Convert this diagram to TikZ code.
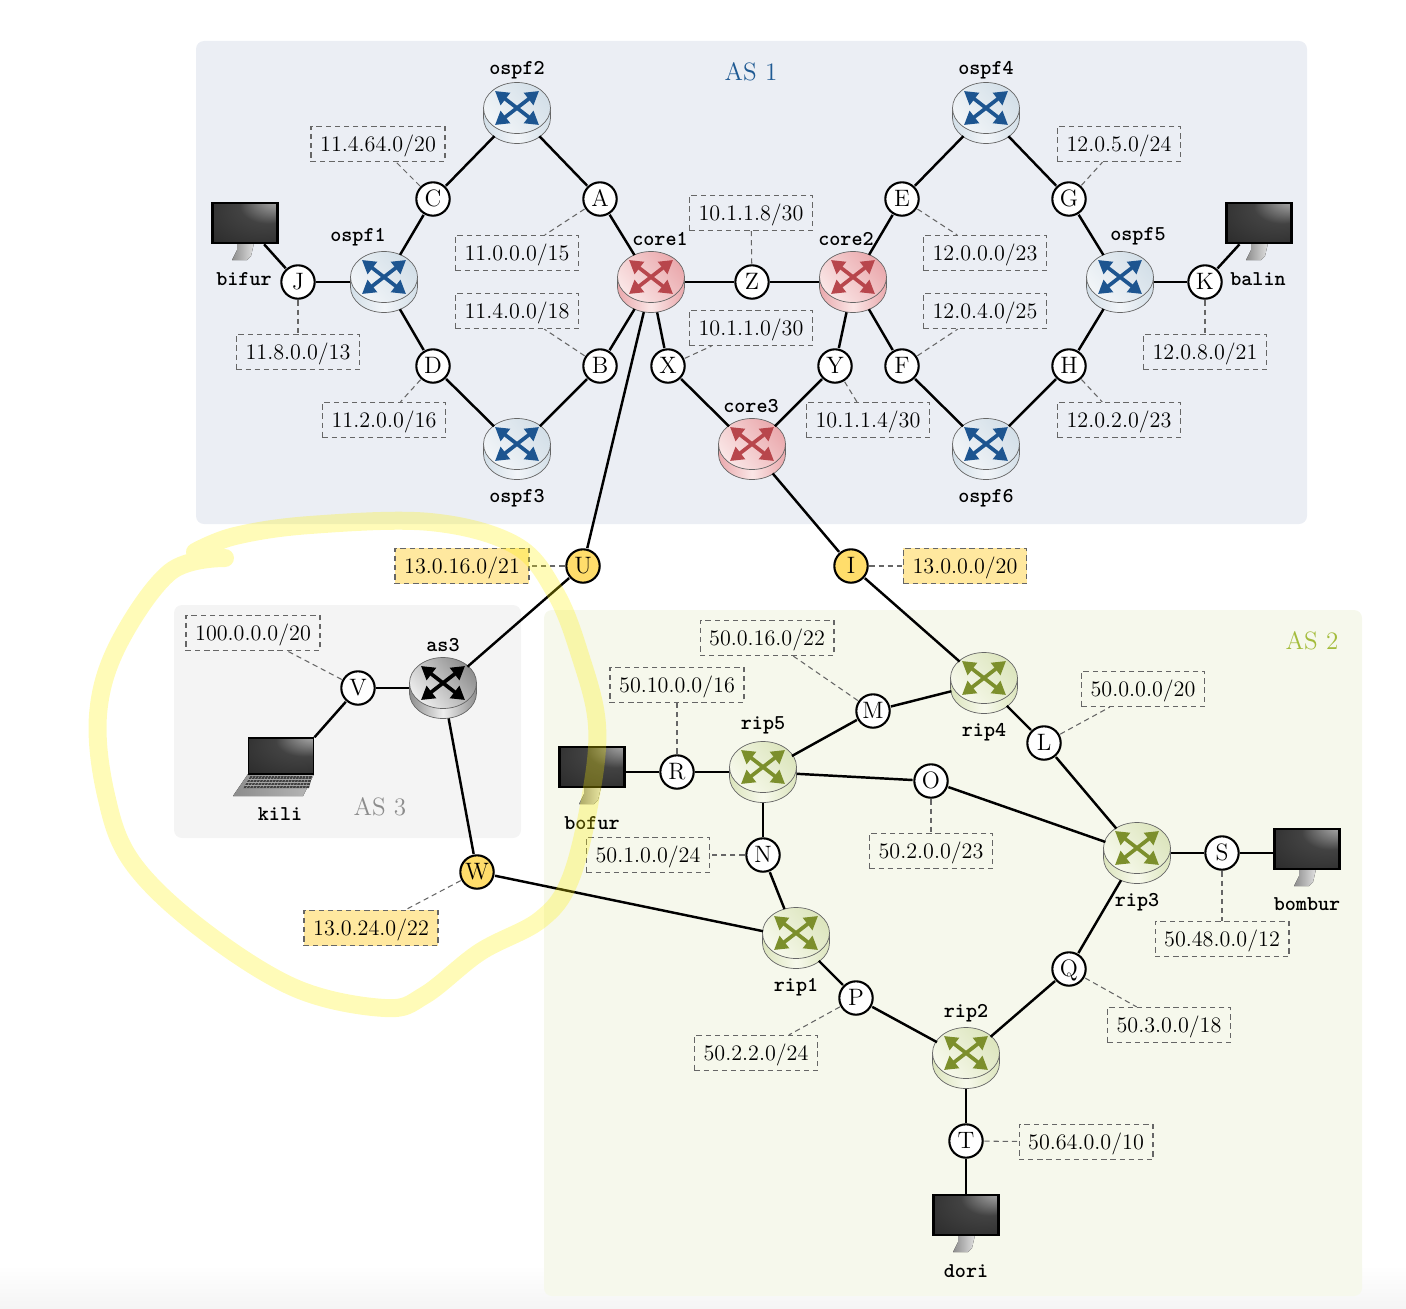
\documentclass[tikz,border=0pt]{standalone}
\usetikzlibrary{arrows.meta,shapes.geometric}

\definecolor{asonebg}{HTML}{EBEEF4}
\definecolor{astwobg}{HTML}{F6F8EC}
\definecolor{asthreebg}{HTML}{F4F4F4}
\definecolor{ospflight}{HTML}{F2F5F8}
\definecolor{ospfdark}{HTML}{D3DFE8}
\definecolor{ospfarrow}{HTML}{1D5590}
\definecolor{corelight}{HTML}{FAE6E6}
\definecolor{coredark}{HTML}{EAA9AD}
\definecolor{corearrow}{HTML}{B8464C}
\definecolor{riplight}{HTML}{F7F9EC}
\definecolor{ripdark}{HTML}{DCE5BD}
\definecolor{riparrow}{HTML}{7C8F2C}
\definecolor{graylight}{HTML}{EEEEEE}
\definecolor{graydark}{HTML}{8E8E8E}
\definecolor{grayarrow}{HTML}{000000}
\definecolor{hopyellow}{HTML}{FFDD6B}
\definecolor{netyellow}{HTML}{FFE89F}

\pgfdeclareradialshading{screenshade}{\pgfpoint{32bp}{38bp}}{
	color(0bp)=(black!18); color(9bp)=(black!40); color(22bp)=(black!74); color(50bp)=(black!86)}

\tikzset{
	hop/.style={circle, draw, line width=1.2pt, fill=white, minimum size=19pt, inner sep=0pt, outer sep=1pt, text height=9pt, text depth=0pt, font=\fontsize{13.5}{15}\selectfont},
	net/.style={draw=black!60, dash pattern=on 3pt off 2.2pt, line width=0.6pt, minimum height=20pt, inner xsep=5.2pt, inner ysep=0pt, text height=8.2pt, text depth=0pt, font=\fontsize{12.6}{15}\selectfont},
	netlink/.style={draw=black!60, dash pattern=on 3pt off 2.2pt, line width=0.6pt},
	wire/.style={line width=1.4pt},
	routerspot/.style={ellipse, minimum width=1.34cm, minimum height=1.22cm, inner sep=0pt},
	routerarrow/.style={line width=2.1pt, {Triangle[length=7.5pt,width=8.5pt]}-{Triangle[length=7.5pt,width=8.5pt]}},
	screen/.style={rectangle, draw, line width=1.5pt, shading=screenshade, minimum width=1.3cm, minimum height=0.8cm, inner sep=0pt},
	devname/.style={yshift=-1pt, font=\fontsize{12}{14}\ttfamily\bfseries},
	astitle/.style={font=\fontsize{14.3}{17}\selectfont},
	panel/.style={rounded corners=0.16cm},
	highlight/.style={line width=0.36cm, draw=yellow, opacity=0.28, line cap=round, line join=round}
}

\newcommand{\router}[4]{
	\node[routerspot] (#1) at (#2,#3) {};
	\begin{scope}[shift={(#1)}]
		\draw[line width=0.4pt, draw=black!60, left color=#4dark, right color=#4dark, middle color=#4light] (-33.5,-5) -- (-33.5,5) arc[start angle=180, end angle=0, x radius=33.5, y radius=25.5] -- (33.5,-5) -- cycle;
		\draw[line width=0.4pt, draw=black!60, top color=#4dark, bottom color=#4light, shading angle=-50] (0,-5) ellipse[x radius=33.5, y radius=25.5];
		\draw[routerarrow, #4arrow] (-22,-22) -- (22,12);
		\draw[routerarrow, #4arrow] (-22,12) -- (22,-22);
	\end{scope}
}

\newcommand{\monitor}[3]{
	\fill[left color=black!45, right color=black!12] (#2-8,#3+20) -- (#2+9,#3+20) -- (#2+6,#3+33) -- (#2+2,#3+37) -- (#2-13,#3+37) -- (#2-8,#3+27) -- cycle;
	\node[screen] (#1) at (#2,#3) {};
}

\begin{document}
\begin{tikzpicture}[x=0.02cm, y=-0.02cm]
	\useasboundingbox (0,0) rectangle (1406,1308);

	\fill[top color=white, bottom color=black!4] (0,1265) rectangle (1406,1308);
	\fill[asonebg, panel] (196,41) rectangle (1307,524);
	\fill[asthreebg, panel] (174,605) rectangle (521,838);
	\fill[astwobg, panel] (544,610) rectangle (1362,1296);

	\node[astitle, text={rgb,255:red,31;green,90;blue,147}] (asone) at (751,72) {AS 1};
	\node[astitle, text={rgb,255:red,164;green,188;blue,60}] (astwo) at (1312,641) {AS 2};
	\node[astitle, text=black!45] (asthree) at (380,807) {AS 3};

	\router{ospf1}{384}{282}{ospf}
	\router{ospf2}{517}{113}{ospf}
	\router{ospf3}{517}{449}{ospf}
	\router{ospf4}{986}{113}{ospf}
	\router{ospf5}{1120}{282}{ospf}
	\router{ospf6}{986}{449}{ospf}
	\router{core1}{651}{282}{core}
	\router{core2}{853}{282}{core}
	\router{core3}{752}{449}{core}
	\router{as3}{443}{688}{gray}
	\router{rip1}{796}{938}{rip}
	\router{rip2}{966}{1058}{rip}
	\router{rip3}{1137}{853}{rip}
	\router{rip4}{984}{683}{rip}
	\router{rip5}{763}{772}{rip}

	\monitor{bifur}{245}{223}
	\monitor{balin}{1259}{223}
	\monitor{bofur}{592}{767}
	\monitor{bombur}{1307}{849}
	\monitor{dori}{966}{1215}

	\fill[left color=black!45, right color=black!28] (248,774) -- (314,774) -- (303,796) -- (233,796) -- cycle;
	\fill[black!75] (250,776) -- (312,776) -- (309,788) -- (243,788) -- cycle;
	\foreach \k in {0,...,19} {
		\draw[black!35, line width=0.25pt] (250+\k*3.1,776) -- (243+\k*3.3,788);
	}
	\foreach \k in {1,2,3} {
		\draw[black!35, line width=0.25pt] (250-\k*1.8,776+\k*3) -- (312-\k*0.8,776+\k*3);
	}
	\node[screen, line width=1.1pt, minimum width=1.3cm, minimum height=0.71cm] (kili) at (281,756) {};

	\foreach \n/\x/\y in {A/600/199, B/600/366, C/433/199, D/433/366, E/902/199, F/902/366, G/1069/199, H/1069/366, J/298/282, K/1205/282, X/668/366, Y/835/366, Z/752/282, V/358/688, M/873/711, L/1044/743, O/931/781, R/677/772, N/763/855, P/856/998, Q/1069/969, S/1222/853, T/966/1141} {
		\node[hop] (\n) at (\x,\y) {\n};
	}
	\foreach \n/\x/\y in {U/583/566, I/851/566, W/477/872} {
		\node[hop, fill=hopyellow] (\n) at (\x,\y) {\n};
	}

	\foreach \n/\x/\y/\t in {C/378/144/{11.4.64.0/20}, A/517/253/{11.0.0.0/15}, B/517/311/{11.4.0.0/18}, J/298/352/{11.8.0.0/13}, D/384/420/{11.2.0.0/16}, Z/751/213/{10.1.1.8/30}, X/751/328/{10.1.1.0/30}, Y/868/420/{10.1.1.4/30}, G/1119/144/{12.0.5.0/24}, E/985/253/{12.0.0.0/23}, F/985/311/{12.0.4.0/25}, K/1205/352/{12.0.8.0/21}, H/1119/420/{12.0.2.0/23}, V/253/633/{100.0.0.0/20}, M/767/638/{50.0.16.0/22}, R/677/685/{50.10.0.0/16}, L/1143/689/{50.0.0.0/20}, O/931/851/{50.2.0.0/23}, N/648/855/{50.1.0.0/24}, S/1222/939/{50.48.0.0/12}, Q/1169/1025/{50.3.0.0/18}, P/756/1053/{50.2.2.0/24}, T/1086/1142/{50.64.0.0/10}} {
		\node[net] (net\n) at (\x,\y) {\t};
		\draw[netlink] (\n) -- (net\n);
	}
	\foreach \n/\x/\y/\t in {U/462/566/{13.0.16.0/21}, I/965/566/{13.0.0.0/20}, W/371/928/{13.0.24.0/22}} {
		\node[net, fill=netyellow] (net\n) at (\x,\y) {\t};
		\draw[netlink] (\n) -- (net\n);
	}

	\foreach \a/\b in {bifur/J, J/ospf1, ospf1/C, C/ospf2, ospf2/A, A/core1, ospf1/D, D/ospf3, ospf3/B, B/core1, core1/Z, Z/core2, core1/X, X/core3, core3/Y, Y/core2, core2/E, E/ospf4, ospf4/G, G/ospf5, core2/F, F/ospf6, ospf6/H, H/ospf5, ospf5/K, K/balin, core1/U, U/as3, core3/I, I/rip4, V/as3, as3/W, W/rip1, rip4/M, M/rip5, rip4/L, L/rip3, rip5/O, O/rip3, rip5/R, rip5/N, N/rip1, rip1/P, P/rip2, rip2/Q, Q/rip3, rip3/S, rip2/T, T/dori} {
		\draw[wire] (\a) -- (\b);
	}
	\draw[wire] (V) -- (kili.north east);
	\draw[wire] (R) -- (bofur.east |- R);
	\draw[wire] (S) -- (bombur.west |- S);

	\foreach \n/\x/\y in {ospf2/517/68, ospf1/358/235, ospf3/517/496, ospf4/986/68, ospf5/1138/235, ospf6/986/496, core1/660/237, core2/846/237, core3/751/404, as3/443/643, rip4/984/730, rip5/763/724, rip3/1137/900, rip1/796/985, rip2/966/1011, bifur/244/277, balin/1258/277, bofur/592/821, bombur/1307/902, dori/966/1269, kili/280/812} {
		\node[devname] (name\n) at (\x,\y) {\n};
	}

	\draw[highlight] plot[smooth, tension=0.6] coordinates {(225,558) (170,572) (118,645) (98,715) (106,795) (132,862) (200,928) (295,988) (385,1008) (425,995) (480,952) (540,920) (570,880) (590,800) (597,725) (580,655) (555,592) (515,545) (430,522) (310,525) (235,536) (195,552)};
\end{tikzpicture}
\end{document}
